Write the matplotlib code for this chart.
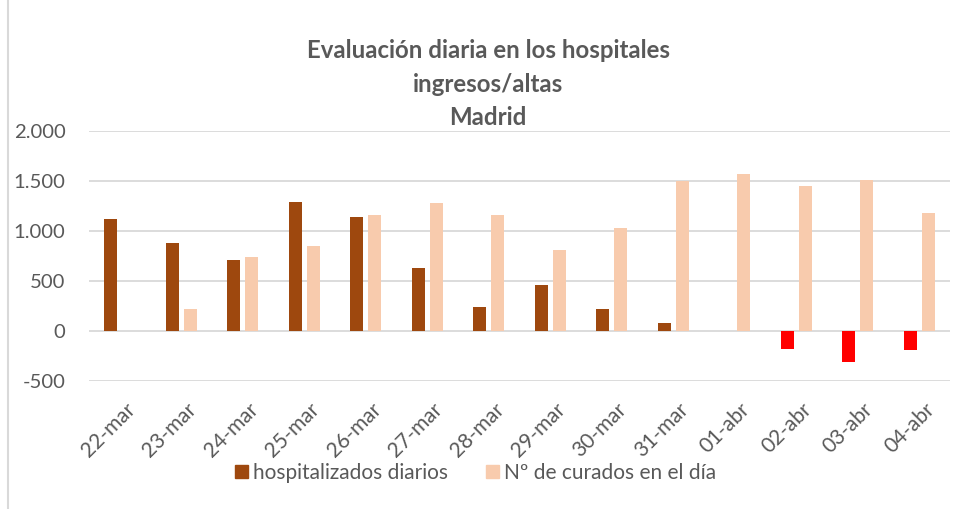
import matplotlib
matplotlib.use("Agg")
import matplotlib.pyplot as plt
import matplotlib.transforms as mtransforms
import numpy as np
from matplotlib.lines import Line2D
from matplotlib.patches import Patch

categories = ["22-mar", "23-mar", "24-mar", "25-mar", "26-mar", "27-mar", "28-mar",
              "29-mar", "30-mar", "31-mar", "01-abr", "02-abr", "03-abr", "04-abr"]
hospitalizados = [1117, 879, 709, 1287, 1140, 629, 237, 458, 221, 84, 0, -184, -311, -194]
curados = [0, 224, 739, 849, 1160, 1281, 1163, 809, 1026, 1498, 1571, 1451, 1511, 1180]
series_names = ["hospitalizados diarios", "Nº de curados en el día"]
title_lines = ["Evaluación diaria en los hospitales", "ingresos/altas", "Madrid"]

dark = "#9E480E"
light = "#F8CBAD"
neg = "#FF0000"
txt = "#595959"
grid = "#D9D9D9"

plt.rcParams['font.family'] = ['Lato', 'DejaVu Sans']

fig = plt.figure(figsize=(9.58, 5.09), dpi=100)
ax = fig.add_axes([89/958, 1-381/509, (950-89)/958, 250/509])

x = np.arange(len(categories))
w = 0.216
off = 0.145
dark_colors = [dark if v >= 0 else neg for v in hospitalizados]
ax.bar(x - off, hospitalizados, width=w, color=dark_colors, zorder=3)
ax.bar(x + off, curados, width=w, color=light, zorder=3)

ax.set_xlim(-0.5, len(categories) - 0.5)
ax.set_ylim(-500, 2000)
ax.set_yticks([-500, 0, 500, 1000, 1500, 2000])
ax.set_yticklabels(["-500", "0", "500", "1.000", "1.500", "2.000"])
ax.yaxis.grid(True, color=grid, linewidth=1.3, zorder=0)
ax.set_axisbelow(True)
for s in ax.spines.values():
    s.set_visible(False)
ax.tick_params(axis='both', length=0, colors=txt, labelsize=14.6)
ax.tick_params(axis='y', pad=17)
ax.set_xticks(x)
ax.set_xticklabels(categories, rotation=45, ha='right', rotation_mode='anchor')
ax.tick_params(axis='x', pad=13, labelsize=15)
shift = mtransforms.ScaledTranslation(5/100, 0, fig.dpi_scale_trans)
for lbl in ax.get_xticklabels():
    lbl.set_transform(lbl.get_transform() + shift)

for line, yb in zip(title_lines, [58, 92.5, 125]):
    fig.text(488/958, 1-yb/509, line, ha='center', va='baseline',
             fontsize=17.3, fontweight='bold', color=txt)

handles = [Patch(color=dark), Patch(color=light)]
leg = fig.legend(handles, series_names, loc='center', bbox_to_anchor=(0.4963, 1-473/509),
                 ncol=2, frameon=False, fontsize=15, handlelength=0.63, handleheight=0.63,
                 handletextpad=0.25, columnspacing=1.8, labelcolor=txt, borderpad=0)

fig.add_artist(Line2D([7.5/958, 7.5/958], [0, 1], color=grid, linewidth=1.5))

fig.savefig("out.png", dpi=100)
